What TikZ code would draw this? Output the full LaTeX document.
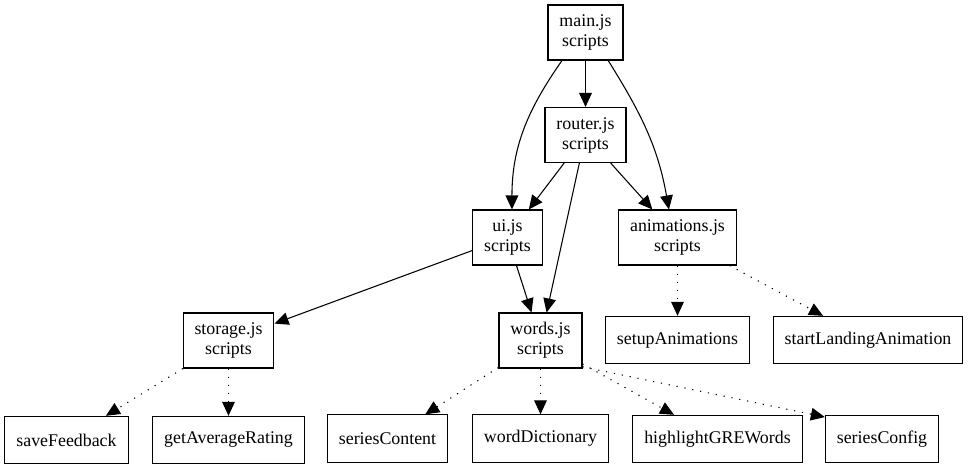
\documentclass[tikz,border=0pt]{standalone}
\usepackage{fontspec}
\setmainfont{Liberation Serif}
\usetikzlibrary{arrows.meta}

\begin{document}
\begin{tikzpicture}[
    x=0.75pt, y=-0.75pt,
    font=\fontsize{13.4}{15}\selectfont,
    box/.style={
      draw,
      line width=0.8pt,
      align=center,
      inner xsep=8.6pt,
      inner ysep=0pt,
      fill=white
    },
    module/.style={
      box,
      minimum height=41.25pt
    },
    func/.style={
      box,
      minimum height=35.5pt
    },
    arrow/.style={
      -{Triangle[length=10.5pt, width=9.5pt]},
      line width=0.8pt
    },
    calls/.style={
      arrow,
      dash pattern=on 0.9pt off 5.1pt
    }
  ]
    \useasboundingbox (0,0) rectangle (970,469);

    % Script modules
    \node[module] (main) at (585.5,32.5) {main.js\\scripts};
    \node[module] (router) at (585.5,135) {router.js\\scripts};
    \node[module] (ui) at (507.5,237.5) {ui.js\\scripts};
    \node[module] (animations) at (677.5,237.5) {animations.js\\scripts};
    \node[module] (storage) at (228.5,340.5) {storage.js\\scripts};
    \node[module] (words) at (540.5,340.5) {words.js\\scripts};

    % Exported functions
    \node[func] (setupAnim) at (677.5,340) {setupAnimations};
    \node[func] (startLanding) at (868,340) {startLandingAnimation};
    \node[func] (saveFeedback) at (66.5,440) {saveFeedback};
    \node[func] (avgRating) at (228.5,440) {getAverageRating};
    \node[func] (seriesContent) at (387.5,438.5) {seriesContent};
    \node[func] (wordDict) at (540.5,438.5) {wordDictionary};
    \node[func] (highlight) at (717.5,439) {highlightGREWords};
    \node[func] (seriesConfig) at (882,439) {seriesConfig};

    % Imports
    \draw[arrow] (main.-130) to[out=235, in=90] (ui.81);
    \draw[arrow] (main) -- (router);
    \draw[arrow] (main.-51) to[out=-58, in=100] (animations.107);
    \draw[arrow] (router) -- (ui);
    \draw[arrow] (router) -- (animations);
    \draw[arrow] (router) -- (words);
    \draw[arrow] (ui) -- (words);
    \draw[arrow] (ui) -- (storage);

    % Calls
    \draw[calls] (animations) -- (setupAnim);
    \draw[calls] (animations) -- (startLanding);
    \draw[calls] (storage) -- (saveFeedback);
    \draw[calls] (storage) -- (avgRating);
    \draw[calls] (words) -- (seriesContent);
    \draw[calls] (words) -- (wordDict);
    \draw[calls] (words) -- (highlight);
    \draw[calls] (words.-32) -- (seriesConfig.159);

  \end{tikzpicture}
\end{document}
